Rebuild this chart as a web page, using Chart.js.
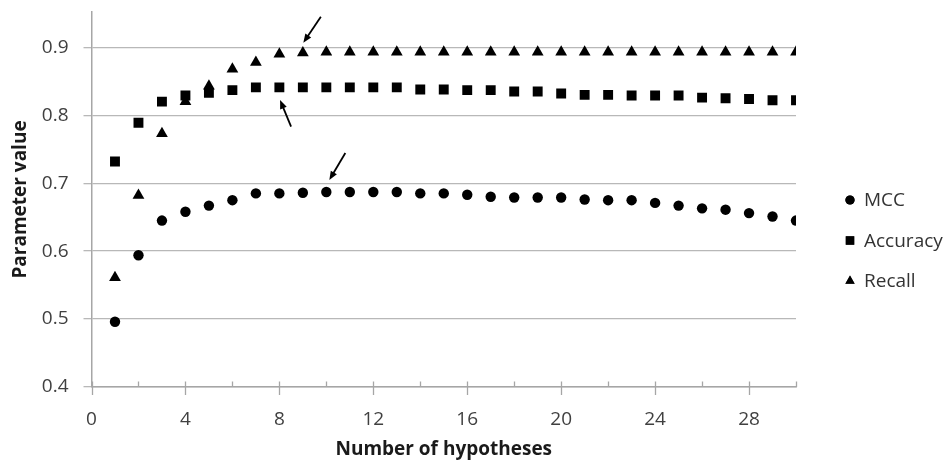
<!DOCTYPE html>
<html>
<head>
<meta charset="utf-8">
<script src="https://cdn.jsdelivr.net/npm/chart.js@4.4.0/dist/chart.umd.min.js"></script>
<style>
html, body { margin: 0; padding: 0; background: #fff; }
#wrap { width: 948px; height: 461px; }
</style>
</head>
<body>
<div id="wrap"><canvas id="chart"></canvas></div>
<script>
// datos
const hypotheses = [1, 2, 3, 4, 5, 6, 7, 8, 9, 10, 11, 12, 13, 14, 15, 16, 17, 18, 19, 20, 21, 22, 23, 24, 25, 26, 27, 28, 29, 30];
const mcc = [0.496, 0.594, 0.645, 0.658, 0.667, 0.675, 0.685, 0.685, 0.686, 0.687, 0.687, 0.687, 0.687, 0.685, 0.685,
             0.683, 0.680, 0.679, 0.679, 0.679, 0.676, 0.675, 0.675, 0.671, 0.667, 0.663, 0.661, 0.656, 0.651, 0.645];
const accuracy = [0.732, 0.789, 0.820, 0.829, 0.833, 0.837, 0.841, 0.841, 0.841, 0.841, 0.841, 0.841, 0.841, 0.838, 0.838,
                  0.837, 0.837, 0.835, 0.835, 0.832, 0.830, 0.830, 0.829, 0.829, 0.829, 0.826, 0.825, 0.824, 0.822, 0.822];
const recall = [0.561, 0.682, 0.773, 0.820, 0.843, 0.868, 0.878, 0.890, 0.892, 0.893, 0.893, 0.893, 0.893, 0.893, 0.893,
                0.893, 0.893, 0.893, 0.893, 0.893, 0.893, 0.893, 0.893, 0.893, 0.893, 0.893, 0.893, 0.893, 0.893, 0.893];
const yTicks = [0.4, 0.5, 0.6, 0.7, 0.8, 0.9];
const xLabelStep = 4;

const FONT = "'Open Sans', 'Noto Sans', sans-serif";

// flechas que marcan el mejor punto de cada serie (dataset, indice)
const arrowNotes = [
    { dataset: 2, index: 8, tip: [0.5, -10], tail: [18, -36] },
    { dataset: 1, index: 7, tip: [0.7, 12.6], tail: [11.7, 39.3] },
    { dataset: 0, index: 9, tip: [3, -12], tail: [19, -39] }
];

const toPoints = (vals) => vals.map((v, i) => ({ x: hypotheses[i], y: v }));

const arrowPlugin = {
    id: 'arrows',
    afterDatasetsDraw(chart) {
        const ctx = chart.ctx;
        ctx.save();
        ctx.strokeStyle = '#000';
        ctx.fillStyle = '#000';
        ctx.lineWidth = 1.8;
        arrowNotes.forEach(a => {
            const pt = chart.getDatasetMeta(a.dataset).data[a.index];
            const tx = pt.x + a.tip[0], ty = pt.y + a.tip[1];
            const sx = pt.x + a.tail[0], sy = pt.y + a.tail[1];
            const ang = Math.atan2(ty - sy, tx - sx);
            const head = 9.5;
            ctx.beginPath();
            ctx.moveTo(sx, sy);
            ctx.lineTo(tx - Math.cos(ang) * head * 0.7, ty - Math.sin(ang) * head * 0.7);
            ctx.stroke();
            ctx.beginPath();
            ctx.moveTo(tx, ty);
            ctx.lineTo(tx - head * Math.cos(ang - 0.38), ty - head * Math.sin(ang - 0.38));
            ctx.lineTo(tx - head * Math.cos(ang + 0.38), ty - head * Math.sin(ang + 0.38));
            ctx.closePath();
            ctx.fill();
        });
        ctx.restore();
    }
};

// marcas del eje X estilo Excel: mayores cruzan el eje, menores hacia dentro
const xTickPlugin = {
    id: 'xTicks',
    afterDraw(chart) {
        const xs = chart.scales.x;
        const yb = chart.chartArea.bottom;
        const ctx = chart.ctx;
        ctx.save();
        ctx.strokeStyle = '#a6a6a6';
        ctx.lineWidth = 1.3;
        xs.ticks.forEach(t => {
            const px = Math.round(xs.getPixelForValue(t.value)) + 0.5;
            const major = t.value % xLabelStep === 0;
            ctx.beginPath();
            ctx.moveTo(px, yb - 5.5);
            ctx.lineTo(px, major ? yb + 8 : yb);
            ctx.stroke();
        });
        ctx.restore();
    }
};

// leyenda a la derecha, como en la figura original
const legendSizes = { circle: 4.6, rect: 6, triangle: 5.4 };
const legendPlugin = {
    id: 'sideLegend',
    afterDraw(chart) {
        const ctx = chart.ctx;
        const area = chart.chartArea;
        const x0 = area.right + 54;
        const yMid = (area.top + area.bottom) / 2 + 0.5;
        ctx.save();
        ctx.font = `19px ${FONT}`;
        ctx.textBaseline = 'middle';
        chart.data.datasets.forEach((ds, i) => {
            const y = yMid + i * 40.5;
            Chart.helpers.drawPoint(ctx, {
                pointStyle: ds.pointStyle,
                radius: legendSizes[ds.pointStyle],
                borderWidth: 0
            }, x0, y);
            ctx.fillStyle = '#000';
            ctx.fill();
            ctx.fillStyle = '#333';
            ctx.fillText(ds.label, x0 + 14, y + 1);
        });
        ctx.restore();
    }
};

const ctx = document.getElementById('chart');
new Chart(ctx, {
    type: 'scatter',
    data: {
        datasets: [
            { label: 'MCC', data: toPoints(mcc), pointStyle: 'circle', pointRadius: 5.2,
              backgroundColor: '#000', borderColor: '#000', borderWidth: 0 },
            { label: 'Accuracy', data: toPoints(accuracy), pointStyle: 'rect', pointRadius: 7,
              backgroundColor: '#000', borderColor: '#000', borderWidth: 0 },
            { label: 'Recall', data: toPoints(recall), pointStyle: 'triangle', pointRadius: 6.8,
              backgroundColor: '#000', borderColor: '#000', borderWidth: 0 }
        ]
    },
    options: {
        responsive: true,
        maintainAspectRatio: false,
        animation: false,
        layout: { padding: { left: 9, right: 152, top: 12, bottom: 0 } },
        plugins: {
            legend: { display: false },
            tooltip: { enabled: false }
        },
        scales: {
            x: {
                type: 'linear',
                min: 0,
                max: 30,
                afterFit: (scale) => { scale.height = 74; scale.paddingLeft = 0; scale.paddingRight = 0; },
                border: { color: '#a6a6a6', width: 1.5 },
                grid: { drawOnChartArea: false, tickLength: 8, color: 'rgba(0,0,0,0)' },
                ticks: {
                    stepSize: 2,
                    autoSkip: false,
                    maxRotation: 0,
                    padding: 13,
                    color: '#404040',
                    font: { family: FONT, size: 19 },
                    callback: (v) => (v % xLabelStep === 0 && v < 30) ? v : ''
                },
                title: {
                    display: true,
                    text: 'Number of hypotheses',
                    color: '#1a1a1a',
                    padding: { top: 9, bottom: 0 },
                    font: { family: FONT, size: 19, weight: 'bold' }
                }
            },
            y: {
                min: 0.4,
                max: 0.952,
                afterBuildTicks: (axis) => { axis.ticks = yTicks.map(v => ({ value: v })); },
                afterFit: (scale) => { scale.width = 82.5; scale.paddingTop = 0; scale.paddingBottom = 0; },
                border: { color: '#a6a6a6', width: 1.5 },
                grid: { color: '#b8b8b8', lineWidth: 1.3, tickLength: 8 },
                ticks: {
                    padding: 15,
                    color: '#404040',
                    font: { family: FONT, size: 19 },
                    callback: (v) => v.toFixed(1)
                },
                title: {
                    display: true,
                    text: 'Parameter value',
                    color: '#1a1a1a',
                    padding: { top: 0, bottom: 10 },
                    font: { family: FONT, size: 19, weight: 'bold' }
                }
            }
        }
    },
    plugins: [arrowPlugin, xTickPlugin, legendPlugin]
});
</script>
</body>
</html>
